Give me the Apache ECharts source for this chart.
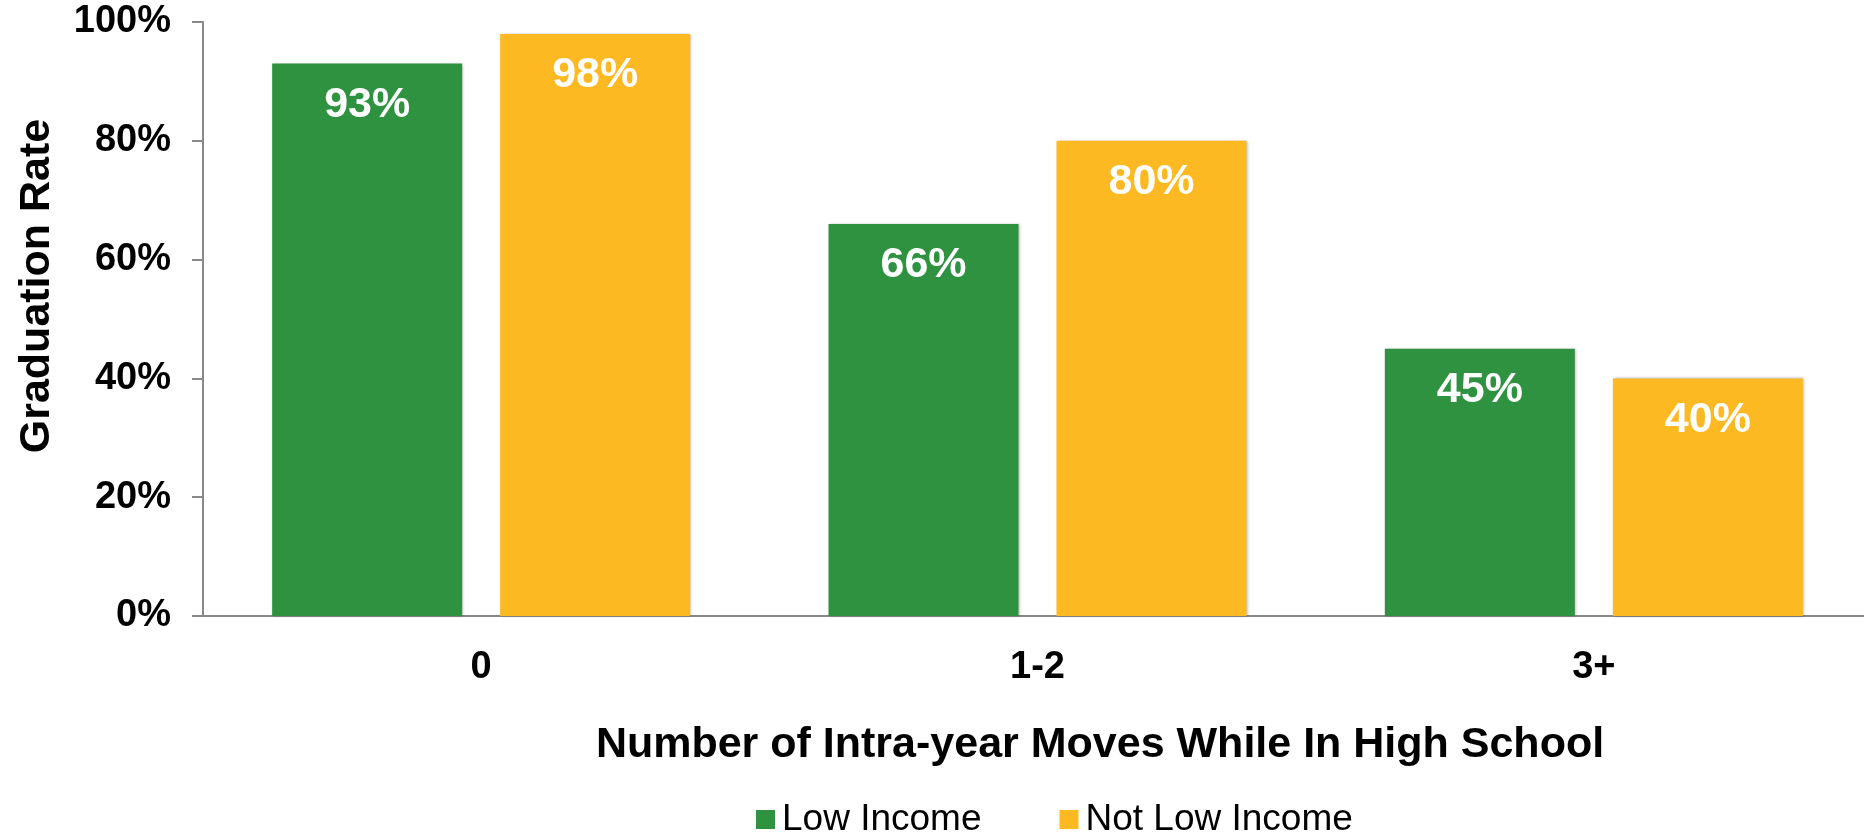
<!DOCTYPE html>
<html>
<head>
<meta charset="utf-8">
<script src="https://cdn.jsdelivr.net/npm/echarts@6/dist/echarts.min.js"></script>
<style>
  html, body { margin: 0; padding: 0; background: #ffffff; }
  #chart { width: 1864px; height: 834px; }
</style>
</head>
<body>
<div id="chart"></div>
<script>
// Graduation rate by number of intra-year moves, split by income status
const categories = ['0', '1-2', '3+'];
const lowIncome = [93, 66, 45];
const notLowIncome = [98, 80, 40];
const seriesNames = ['Low Income', 'Not Low Income'];
const yTicks = [0, 20, 40, 60, 80, 100];

const FONT = '"Liberation Sans", Arial, Helvetica, sans-serif';
const AXIS_GRAY = '#898989';
const GREEN = '#2F9241';
const YELLOW = '#FDB921';

const chart = echarts.init(document.getElementById('chart'), null, { renderer: 'canvas' });

const barLabel = {
  show: true,
  position: 'insideTop',
  distance: 20,
  color: '#ffffff',
  fontFamily: FONT,
  fontWeight: 'bold',
  fontSize: 43,
  formatter: p => p.value + '%'
};

const barShadow = {
  shadowBlur: 3,
  shadowColor: 'rgba(0,0,0,0.30)',
  shadowOffsetX: 1,
  shadowOffsetY: 0
};

chart.setOption({
  animation: false,
  backgroundColor: '#ffffff',
  grid: {
    left: 203, top: 22, width: 1669, bottom: 218,
    containLabel: false,
    outerBoundsMode: 'none'
  },
  legend: {
    data: seriesNames,
    left: 756,
    top: 801,
    padding: 0,
    itemWidth: 19,
    itemHeight: 19,
    itemGap: 78,
    icon: 'rect',
    textStyle: { fontFamily: FONT, fontSize: 37, color: '#000000', padding: [0, 0, 0, 2] }
  },
  xAxis: {
    type: 'category',
    data: categories,
    name: 'Number of Intra-year Moves While In High School',
    nameLocation: 'middle',
    nameGap: 108,
    nameTextStyle: {
      fontFamily: FONT, fontWeight: 'bold', fontSize: 43, color: '#000000',
      padding: [0, 0, 0, 125]
    },
    axisLine: { show: true, lineStyle: { color: AXIS_GRAY, width: 2 } },
    axisTick: { show: false },
    axisLabel: {
      margin: 33,
      fontFamily: FONT, fontWeight: 'bold', fontSize: 38, color: '#000000'
    },
    splitLine: { show: false }
  },
  yAxis: {
    type: 'value',
    min: yTicks[0],
    max: yTicks[yTicks.length - 1],
    interval: 20,
    name: 'Graduation Rate',
    nameLocation: 'middle',
    nameGap: 144,
    nameRotate: 90,
    nameTextStyle: {
      fontFamily: FONT, fontWeight: 'bold', fontSize: 43, color: '#000000',
      padding: [0, 0, 0, 66]
    },
    axisLine: { show: true, lineStyle: { color: AXIS_GRAY, width: 2 } },
    axisTick: { show: true, inside: false, length: 11, lineStyle: { color: AXIS_GRAY, width: 2 } },
    axisLabel: {
      margin: 32,
      fontFamily: FONT, fontWeight: 'bold', fontSize: 38, color: '#000000',
      padding: [4, 0, 0, 0],
      formatter: v => v + '%'
    },
    splitLine: { show: false }
  },
  series: [
    {
      name: seriesNames[0],
      type: 'bar',
      data: lowIncome,
      barWidth: 190,
      barGap: '20%',
      itemStyle: Object.assign({ color: GREEN }, barShadow),
      label: barLabel
    },
    {
      name: seriesNames[1],
      type: 'bar',
      data: notLowIncome,
      barWidth: 190,
      barGap: '20%',
      itemStyle: Object.assign({ color: YELLOW }, barShadow),
      label: barLabel
    }
  ]
});
</script>
</body>
</html>
